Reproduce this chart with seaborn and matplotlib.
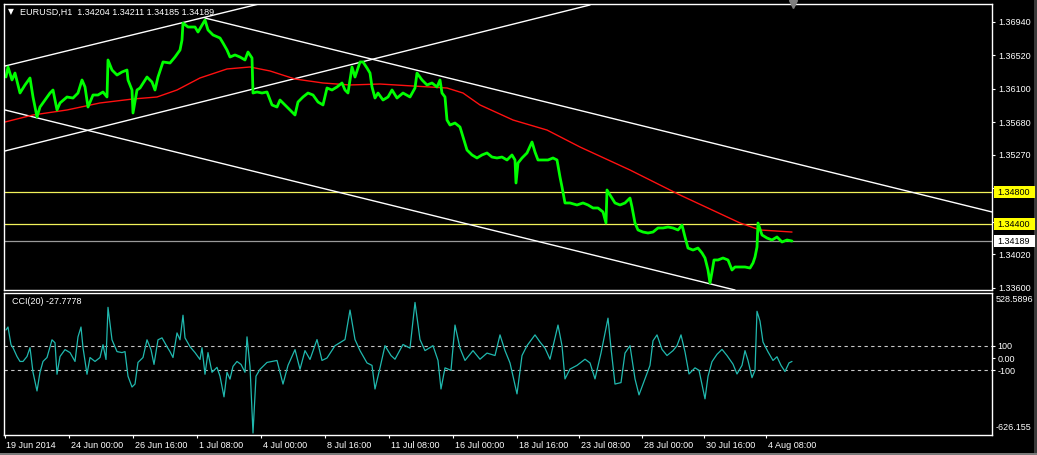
import matplotlib
matplotlib.use("Agg")
import matplotlib.pyplot as plt
import seaborn as sns
from matplotlib.patches import Rectangle
from matplotlib.transforms import ScaledTranslation

# ---------------- data ----------------
symbol_label = "EURUSD,H1  1.34204 1.34211 1.34185 1.34189"
cci_label = "CCI(20) -27.7778"

price_bar = [1, 3, 7, 10, 15, 20, 25, 28, 32, 35, 40, 45, 48, 52, 55, 62, 68, 73, 77, 80,
             83, 88, 93, 98, 102, 103, 107, 112, 117, 122, 123, 127, 128, 132, 135, 142, 147, 150, 153, 158,
             165, 170, 175, 177, 178, 183, 190, 193, 200, 203, 208, 215, 218, 222, 225, 230, 235, 240, 243, 247,
             248, 252, 257, 262, 267, 272, 275, 280, 285, 290, 293, 298, 303, 308, 313, 318, 322, 327, 332, 337,
             340, 343, 347, 350, 355, 358, 362, 365, 367, 370, 373, 378, 383, 387, 392, 398, 405, 410, 412, 417,
             422, 427, 432, 435, 437, 440, 442, 445, 450, 455, 458, 462, 467, 472, 477, 482, 487, 492, 497, 502,
             507, 510, 511, 513, 517, 522, 527, 530, 533, 538, 543, 548, 552, 555, 557, 560, 565, 572, 578, 583,
             588, 593, 598, 601, 602, 605, 610, 615, 620, 625, 627, 630, 633, 638, 643, 648, 653, 658, 663, 668,
             673, 677, 680, 683, 688, 693, 697, 700, 703, 705, 707, 709, 713, 718, 723, 727, 730, 735, 740, 745,
             748, 750, 752, 753, 757, 762, 767, 772, 777, 782, 787]
price_close = [1.36249, 1.36375, 1.36212, 1.36299, 1.36048, 1.36149, 1.36237, 1.35998, 1.35747, 1.35872,
               1.35960, 1.36048, 1.36086, 1.35835, 1.35923, 1.35998, 1.35985, 1.36048, 1.36212, 1.36124,
               1.35872, 1.36023, 1.36023, 1.36061, 1.35998, 1.36463, 1.36337, 1.36274, 1.36312, 1.36337,
               1.36212, 1.36086, 1.35797, 1.36086, 1.36111, 1.36249, 1.36186, 1.36086, 1.36249, 1.36438,
               1.36425, 1.36500, 1.36588, 1.36714, 1.36927, 1.36877, 1.36877, 1.36814, 1.36965, 1.36840,
               1.36777, 1.36739, 1.36676, 1.36588, 1.36500, 1.36526, 1.36500, 1.36463, 1.36563, 1.36488,
               1.36048, 1.36061, 1.36048, 1.36061, 1.35898, 1.35872, 1.35960, 1.35898, 1.35835, 1.35772,
               1.35935, 1.35998, 1.36048, 1.36023, 1.35935, 1.35898, 1.36111, 1.36086, 1.36124, 1.36174,
               1.36086, 1.36048, 1.36375, 1.36249, 1.36438, 1.36438, 1.36362, 1.36299, 1.36124, 1.35985,
               1.36048, 1.35960, 1.35998, 1.36086, 1.35985, 1.36048, 1.35998, 1.36111, 1.36299, 1.36212,
               1.36149, 1.36174, 1.36124, 1.36212, 1.36048, 1.35998, 1.35709, 1.35646, 1.35671, 1.35621,
               1.35496, 1.35332, 1.35270, 1.35232, 1.35270, 1.35295, 1.35244, 1.35232, 1.35244, 1.35207,
               1.35270, 1.35207, 1.34918, 1.35169, 1.35232, 1.35295, 1.35433, 1.35307, 1.35207, 1.35207,
               1.35207, 1.35232, 1.35207, 1.34993, 1.34868, 1.34667, 1.34667, 1.34642, 1.34667, 1.34642,
               1.34604, 1.34604, 1.34554, 1.34415, 1.34830, 1.34767, 1.34667, 1.34642, 1.34667, 1.34729,
               1.34616, 1.34415, 1.34328, 1.34302, 1.34290, 1.34302, 1.34353, 1.34353, 1.34365, 1.34353,
               1.34328, 1.34390, 1.34240, 1.34101, 1.34076, 1.34101, 1.34039, 1.33976, 1.33825, 1.33662,
               1.33800, 1.33951, 1.33951, 1.33976, 1.33951, 1.33825, 1.33863, 1.33863, 1.33863, 1.33850,
               1.33913, 1.33988, 1.34114, 1.34415, 1.34265, 1.34227, 1.34202, 1.34240, 1.34177, 1.34202,
               1.34189]

ma_bar = [0, 28, 62, 95, 128, 152, 172, 195, 222, 245, 265, 290, 318, 345, 375, 408, 442, 458,
          475, 508, 542, 575, 625, 675, 735, 755, 787]
ma_value = [1.35684, 1.35772, 1.35835, 1.35923, 1.35973, 1.35998, 1.36086, 1.36237, 1.36350, 1.36375,
            1.36325, 1.36224, 1.36174, 1.36149, 1.36161, 1.36136, 1.36111, 1.36048, 1.35898, 1.35709,
            1.35583, 1.35370, 1.35081, 1.34767, 1.34416, 1.34328, 1.34302]

cci_bar = [1, 3, 6, 8, 12, 15, 18, 22, 25, 28, 32, 35, 38, 42, 47, 50, 52, 55, 60, 65,
           70, 73, 76, 78, 82, 85, 90, 95, 98, 101, 103, 107, 112, 117, 120, 123, 127, 130, 133, 138,
           142, 146, 149, 153, 157, 162, 165, 168, 172, 175, 178, 180, 185, 190, 195, 197, 200, 203, 207, 212,
           215, 219, 222, 225, 228, 232, 236, 240, 242, 245, 248, 251, 255, 262, 272, 278, 283, 290, 295, 300,
           305, 312, 317, 322, 330, 340, 345, 350, 355, 362, 367, 370, 375, 380, 386, 390, 398, 405, 410, 415,
           420, 428, 433, 436, 440, 446, 450, 455, 460, 468, 475, 482, 490, 495, 500, 505, 512, 517, 522, 530,
           535, 540, 545, 553, 557, 560, 565, 572, 580, 585, 590, 596, 603, 606, 610, 616, 620, 625, 630, 634,
           640, 645, 648, 652, 657, 662, 668, 672, 676, 680, 684, 690, 694, 700, 703, 707, 712, 717, 722, 728,
           732, 737, 740, 743, 747, 750, 752, 755, 758, 763, 768, 772, 776, 780, 784, 787]
cci_value = [228, 252, 108, 84, 12, -28, -28, 12, 84, -116, -268, -116, -28, 4, 148, 124, -132, 12, 68, 44,
             -28, 172, 252, 84, -132, 4, -28, 4, 108, -12, 412, 148, 52, 44, 52, -148, -236, -212, -36, 4,
             148, 68, -52, 148, 164, 92, 52, 4, 204, 148, 348, 164, 92, 44, -12, 84, -132, 44, -116, -76,
             -148, -316, -116, -172, -68, -28, -52, -116, 172, -68, -610, -148, -92, -36, -20, -212, -60, 68, -92, 60,
             -12, 150, -20, 0, 100, 150, 390, 150, 60, -40, -60, -252, -80, 100, 20, -10, 110, 80, 452, 150,
             60, 100, -20, -252, -80, -100, 268, 80, -20, 60, -10, 40, 20, 188, 60, -40, -292, 20, 100, 188,
             130, 80, -10, 268, 100, -170, -90, -60, -10, -40, -170, 40, 324, 80, -212, -200, 40, 100, -170, -300,
             -170, -60, 140, 188, 70, 20, 60, 100, 188, 50, -130, -80, -100, -332, -150, -30, 30, 70, 20, -50,
             -130, -60, 60, -20, -160, -100, 380, 300, 130, 50, -20, 10, -60, -110, -40, -28]

# analyst trendlines (anchor bars / prices)
chan_up_upper_bar = [0, 265]
chan_up_upper_price = [1.36387, 1.37200]
chan_up_lower_bar = [0, 585]
chan_up_lower_price = [1.35320, 1.37154]
chan_dn_upper_bar = [200, 987]
chan_dn_upper_price = [1.36990, 1.34554]
chan_dn_lower_bar = [0, 730]
chan_dn_lower_price = [1.35835, 1.33574]

level_lines = [1.34800, 1.34400]
bid_price = 1.34189
price_ticks = [1.36940, 1.36520, 1.36100, 1.35680, 1.35270, 1.34850, 1.34430, 1.34020, 1.33600]
price_tick_labels = ["1.36940", "1.36520", "1.36100", "1.35680", "1.35270", "", "", "1.34020", "1.33600"]
price_limits = [1.33574, 1.37166]

time_tick_bars = [0, 64, 128, 192, 256, 320, 384, 448, 512, 574, 637, 699, 761]
time_tick_labels = ["19 Jun 2014", "24 Jun 00:00", "26 Jun 16:00", "1 Jul 08:00", "4 Jul 00:00",
                    "8 Jul 16:00", "11 Jul 08:00", "16 Jul 00:00", "18 Jul 16:00", "23 Jul 08:00",
                    "28 Jul 00:00", "30 Jul 16:00", "4 Aug 08:00"]
bar_limits = [-1, 987]
shift_marker_bar = 788

cci_levels = [100, -100]
cci_ticks = [100, 0, -100]
cci_tick_labels = ["100", "0.00", "-100"]
cci_max = 528.5896
cci_min = -626.155

# ---------------- style ----------------
sns.set_theme(style="dark")
plt.rcParams['font.family'] = ['Liberation Sans', 'DejaVu Sans']
FS = 6.5
W, H = 1037, 455
BG = "black"
FG = "white"

fig = plt.figure(figsize=(W / 100, H / 100), dpi=100, facecolor=BG)


def px_box(x0, y0, x1, y1):
    return [x0 / W, 1 - y1 / H, (x1 - x0) / W, (y1 - y0) / H]


ax = fig.add_axes(px_box(4, 4, 992, 290))
ax2 = fig.add_axes(px_box(4, 293, 992, 435))

for a in (ax, ax2):
    a.set_facecolor(BG)
    a.grid(False)
    for s in a.spines.values():
        s.set_color(FG)
        s.set_linewidth(1.0)
    a.set_xlim(*bar_limits)

# ---- main price panel ----
for b, p in [(chan_up_upper_bar, chan_up_upper_price), (chan_up_lower_bar, chan_up_lower_price),
             (chan_dn_upper_bar, chan_dn_upper_price), (chan_dn_lower_bar, chan_dn_lower_price)]:
    sns.lineplot(x=b, y=p, ax=ax, color="white", linewidth=1.0, estimator=None, sort=False)

for lv in level_lines:
    ax.axhline(lv, color="#f2f25a", linewidth=0.9, zorder=1)
ax.axhline(bid_price, color="#9a9a9a", linewidth=0.9, zorder=1)

sns.lineplot(x=ma_bar, y=ma_value, ax=ax, color="#ff1010", linewidth=1.0, estimator=None, sort=False)
sns.lineplot(x=price_bar, y=price_close, ax=ax, color="#00ff00", linewidth=2.0,
             estimator=None, sort=False)

ax.set_ylim(*price_limits)
ax.set_xlim(*bar_limits)
ax.set_xticks([])
ax.yaxis.tick_right()
ax.set_yticks(price_ticks)
ax.set_yticklabels(price_tick_labels)
ax.tick_params(axis="y", colors=FG, labelcolor=FG, labelsize=FS, length=2.2, width=0.8,
               pad=2.6, direction="out", right=True, left=False)
ax.set_xlabel("")
ax.set_ylabel("")

ax.text(4 / 988, 1 - 8 / 286, "\u25bc", transform=ax.transAxes, color=FG, fontsize=5.5,
        va="center", ha="left", family=["DejaVu Sans"])
ax.text(16 / 988, 1 - 8.5 / 286, symbol_label, transform=ax.transAxes, color=FG, fontsize=FS,
        va="center", ha="left")
ax.plot([shift_marker_bar], [price_limits[1]], marker="v", color="#808080", markersize=6,
        clip_on=False, zorder=5, linestyle="none")

# price label boxes on the right axis
fig.canvas.draw()


def price_to_px_y(p):
    return H - ax.transData.transform((0, p))[1]


for val, face in [(level_lines[0], "#ffff00"), (level_lines[1], "#ffff00"), (bid_price, "#ffffff")]:
    yc = price_to_px_y(val)
    r = Rectangle(((994) / W, 1 - (yc + 6) / H), 41 / W, 12 / H, transform=fig.transFigure,
                  facecolor=face, edgecolor="none", zorder=10)
    fig.add_artist(r)
    fig.text(997 / W, 1 - yc / H, f"{val:.5f}", color="black", fontsize=FS, va="center", ha="left",
             zorder=11)

# ---- CCI panel ----
for lv in cci_levels:
    ax2.axhline(lv, color="#c8c8c8", linewidth=0.8, linestyle=(0, (3, 3)), zorder=1)
sns.lineplot(x=cci_bar, y=cci_value, ax=ax2, color="#20b8ae", linewidth=0.9, estimator=None, sort=False)
ax2.set_ylim(cci_min, cci_max)
ax2.set_xlim(*bar_limits)
ax2.yaxis.tick_right()
ax2.set_yticks(cci_ticks)
ax2.set_yticklabels(cci_tick_labels)
ax2.tick_params(axis="y", colors=FG, labelcolor=FG, labelsize=FS, length=2.2, width=0.8,
                pad=1.5, direction="out", right=True, left=False)
ax2.set_xticks(time_tick_bars)
ax2.set_xticklabels(time_tick_labels)
ax2.tick_params(axis="x", colors=FG, labelcolor=FG, labelsize=FS, length=2.5, width=0.8,
                pad=1.5, direction="out", bottom=True)
offset = ScaledTranslation(1.5 / 100, 0, fig.dpi_scale_trans)
for lab in ax2.get_xticklabels():
    lab.set_horizontalalignment("left")
    lab.set_transform(lab.get_transform() + offset)
ax2.set_xlabel("")
ax2.set_ylabel("")

ax2.text(8 / 988, 1 - 8 / 142, cci_label, transform=ax2.transAxes, color=FG, fontsize=FS,
         va="center", ha="left")
fig.text(996 / W, 1 - 300 / H, f"{cci_max:.4f}", color=FG, fontsize=FS, va="center", ha="left")
fig.text(996 / W, 1 - 428 / H, f"{cci_min:.3f}", color=FG, fontsize=FS, va="center", ha="left")

# window edges
fig.add_artist(Rectangle((1034 / W, 0), 3 / W, 1, transform=fig.transFigure,
                         facecolor="#3a3a3a", edgecolor="none"))
fig.add_artist(Rectangle((0, 0), 1, 2 / H, transform=fig.transFigure,
                         facecolor="#7a7a7a", edgecolor="none"))

fig.savefig("out.png", dpi=100, facecolor=BG)
